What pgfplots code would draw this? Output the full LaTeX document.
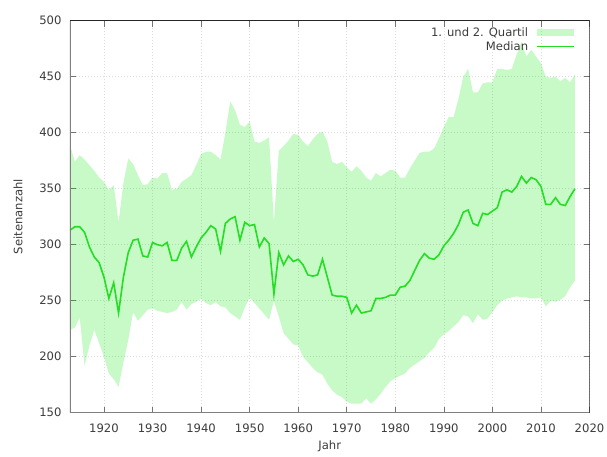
\documentclass[border=0pt]{standalone}
\usepackage{pgfplots}
\pgfplotsset{compat=1.18}
\usepackage{pgfplotstable}
\usepgfplotslibrary{fillbetween}
\usepackage{fontspec}
\setmainfont{DejaVu Sans}
\definecolor{bandgreen}{RGB}{0,230,0}
\definecolor{medgreen}{RGB}{35,222,35}
\definecolor{txt}{RGB}{60,60,60}
\pgfplotstableread{
year q1 med q3
1913 224 313 389
1914 226 316 374
1915 235 316 380
1916 192 311 376
1917 210 298 371
1918 224 289 366
1919 212 284 360
1920 200 271 356
1921 185 252 349
1922 180 266 353
1923 173 239 320
1924 195 271 355
1925 215 293 377
1926 240 304 372
1927 232 305 362
1928 237 290 353
1929 242 289 354
1930 243 302 360
1931 241 300 359
1932 240 299 364
1933 239 302 364
1934 240 286 349
1935 242 286 350
1936 249 297 356
1937 242 303 359
1938 247 289 362
1939 249 298 371
1940 252 306 381
1941 248 311 383
1942 246 317 383
1943 249 314 380
1944 245 294 376
1945 244 319 400
1946 239 323 428
1947 236 325 420
1948 233 304 407
1949 244 320 405
1950 253 317 410
1951 248 318 392
1952 243 298 391
1953 238 306 393
1954 233 301 396
1955 250 256 320
1956 236 293 384
1957 221 282 388
1958 216 290 393
1959 211 285 399
1960 210 287 398
1961 200 282 392
1962 195 273 388
1963 190 272 394
1964 186 273 399
1965 184 287 401
1966 176 271 392
1967 170 255 374
1968 166 254 372
1969 164 254 374
1970 160 253 369
1971 158 239 365
1972 158 246 370
1973 158 239 366
1974 163 240 360
1975 158 241 357
1976 162 252 364
1977 167 252 361
1978 173 253 364
1979 178 255 367
1980 181 255 366
1981 183 262 360
1982 185 263 360
1983 190 268 368
1984 193 277 375
1985 196 286 382
1986 199 292 383
1987 204 288 383
1988 208 287 386
1989 216 291 395
1990 220 299 405
1991 223 304 414
1992 227 310 414
1993 231 318 430
1994 237 329 450
1995 236 331 457
1996 230 319 436
1997 238 317 436
1998 233 328 444
1999 234 327 445
2000 240 330 445
2001 246 333 457
2002 250 347 457
2003 252 349 456
2004 253 347 457
2005 254 352 470
2006 253 361 481
2007 253 355 468
2008 252 360 474
2009 252 358 468
2010 253 352 462
2011 245 336 450
2012 250 336 449
2013 249 342 450
2014 251 336 446
2015 254 335 449
2016 262 343 445
2017 268 350 452
}\data
\begin{document}
\begin{tikzpicture}[font=\fontsize{11.6}{13.5}\selectfont]
\begin{axis}[
  at={(0,0)}, anchor=south west,
  scale only axis, width=519.5pt, height=392pt,
  xmin=1913, xmax=2020, ymin=150, ymax=500,
  xtick={1920,1930,...,2020}, ytick={150,200,...,500},
  /pgf/number format/assume math mode=true,
  /pgf/number format/1000 sep={},
  axis line style={draw=none},
  tick style={black!55, line width=0.6pt},
  major tick length=6pt,
  tick align=inside,
  grid=major,
  grid style={black!14, line width=0.5pt, dash pattern=on 1pt off 2pt},
  every tick label/.append style={inner sep=0pt, text=txt},
  yticklabel style={xshift=-8.3pt},
  xticklabel style={yshift=-10.6pt},
  xlabel={Jahr}, ylabel={Seitenanzahl},
  xlabel style={at={(axis description cs:0.5,-0.0867)}, anchor=center, text=txt},
  ylabel style={at={(axis description cs:-0.1001,0.5)}, anchor=center, text=txt},
  legend style={draw=none, fill=none, at={(axis description cs:0.972,0.986)}, anchor=north east,
    inner sep=0pt, row sep=1.5pt, text=txt, nodes={inner sep=1pt}},
  legend cell align=right,
  legend plot pos=right,
]
\addplot[name path=up, draw=none, forget plot] table[x=year, y=q3] {\data};
\addplot[name path=lo, draw=none, forget plot] table[x=year, y=q1] {\data};
\addplot[fill=bandgreen, fill opacity=0.22, draw=none,
  legend image code/.code={\path (0pt,0pt); \fill[bandgreen, fill opacity=0.22] (7pt,-3.8pt) rectangle (44pt,3.8pt);}]
  fill between[of=up and lo];
\addlegendentry{1. und 2. Quartil}
\addplot[medgreen, line width=1.6pt, mark=none,
  legend image code/.code={\path (0pt,0pt); \draw[medgreen, line width=1.6pt] (7pt,0pt) -- (44pt,0pt);}]
  table[x=year, y=med] {\data};
\addlegendentry{Median}
\draw[black!50, line width=1.3pt] (rel axis cs:0,1) -- (rel axis cs:0,0) -- (rel axis cs:1,0);
\draw[black!85, line width=0.6pt] (rel axis cs:0,1) -- (rel axis cs:1,1) -- (rel axis cs:1,0);
\end{axis}
\pgfresetboundingbox
\path[use as bounding box] (-70pt,-43.3pt) rectangle (537pt,412.7pt);
\end{tikzpicture}
\end{document}
